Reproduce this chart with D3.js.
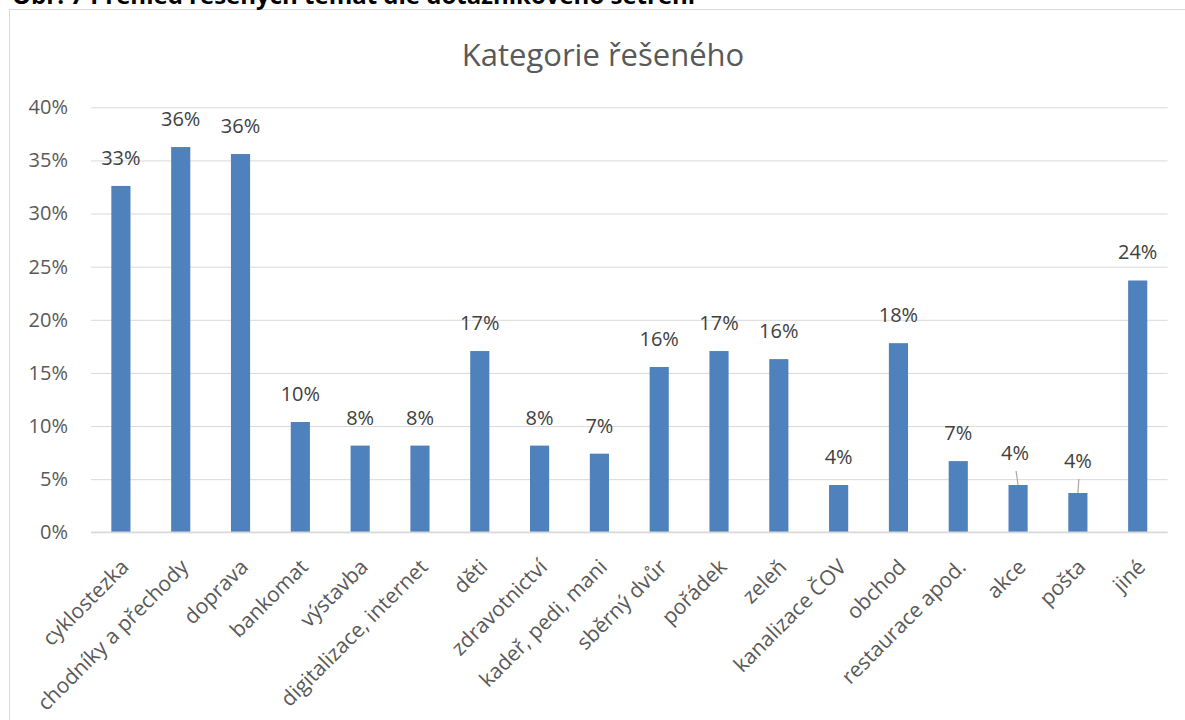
<!DOCTYPE html>
<html lang="cs">
    <head>
        <meta charset="utf-8">
        <title>Kategorie řešeného</title>
        <script src="https://cdnjs.cloudflare.com/ajax/libs/d3/7.8.5/d3.min.js" charset="utf-8"></script>
        <style>
        body {
          margin: 0;
          background: #fff;
          font-family: 'Open Sans', sans-serif;
        }
        svg {
          display: block;
        }
        .grid line {
          stroke: #d9d9d9;
        }
        </style>
    </head>
    <body>
        <svg></svg>

        <script type="text/javascript">
          // hodnoty (podíl odpovědí)
          var categories = ["cyklostezka", "chodníky a přechody", "doprava", "bankomat", "výstavba",
                            "digitalizace, internet", "děti", "zdravotnictví", "kadeř, pedi, mani",
                            "sběrný dvůr", "pořádek", "zeleň", "kanalizace ČOV", "obchod",
                            "restaurace apod.", "akce", "pošta", "jiné"];
          var values = [0.326, 0.3626, 0.356, 0.1038, 0.0816, 0.0816, 0.1706, 0.0816, 0.074,
                        0.1556, 0.1706, 0.163, 0.0445, 0.178, 0.067, 0.0445, 0.037, 0.237];
          var yTicks = [0, 0.05, 0.10, 0.15, 0.20, 0.25, 0.30, 0.35, 0.40];

          var caption = "Obr. 7 Přehled řešených témat dle dotazníkového šetření";
          var title = "Kategorie řešeného";

          var width = 1185;
          var height = 720;
          var plot = {left: 91, right: 1167.6, top: 107.3, bottom: 532.3};

          var data = categories.map((c, i) => ({cat: c, val: values[i]}));

          var svg = d3.select("svg")
              .attr("width", width)
              .attr("height", height);

          // rámeček grafu (pravý a dolní okraj je mimo obrázek)
          svg.append("rect")
              .attr("x", 9.5)
              .attr("y", 9.5)
              .attr("width", width + 20)
              .attr("height", height + 20)
              .attr("fill", "none")
              .attr("stroke", "#d9d9d9");

          // titulek obrázku, v předloze oříznutý horním okrajem
          svg.append("text")
              .attr("x", 12)
              .attr("y", 4)
              .style("font-weight", "bold")
              .style("font-size", "24px")
              .attr("fill", "#000")
              .text(caption);

          svg.append("text")
              .attr("x", 603)
              .attr("y", 66)
              .style("text-anchor", "middle")
              .style("font-size", "31px")
              .attr("fill", "#595959")
              .text(title);

          var xScale = d3.scaleBand()
              .domain(categories)
              .range([plot.left, plot.right])
              .paddingInner(0.68)
              .paddingOuter(0.34);

          var yScale = d3.scaleLinear()
              .domain([0, 0.40])
              .range([plot.bottom, plot.top]);

          var yAxis = d3.axisLeft(yScale)
              .tickValues(yTicks)
              .tickSize(-(plot.right - plot.left))
              .tickPadding(23)
              .tickFormat(d3.format(".0%"));

          var gy = svg.append("g")
              .attr("class", "grid")
              .attr("transform", "translate(" + plot.left + ",0)")
              .call(yAxis);
          gy.select(".domain").remove();
          gy.selectAll("text")
              .attr("fill", "#595959")
              .style("font-size", "20px")
              .style("font-family", "'Open Sans', sans-serif");

          svg.selectAll("rect.bar")
              .data(data)
              .enter()
              .append("rect")
                .attr("class", "bar")
                .attr("x", d => xScale(d.cat))
                .attr("width", xScale.bandwidth())
                .attr("y", d => yScale(d.val))
                .attr("height", d => yScale(0) - yScale(d.val))
                .attr("fill", "#4f81bd");

          // osa x znovu navrch přes sloupce
          svg.append("line")
              .attr("x1", plot.left)
              .attr("x2", plot.right)
              .attr("y1", yScale(0))
              .attr("y2", yScale(0))
              .attr("stroke", "#d9d9d9")
              .attr("stroke-width", 1.5);

          // ručně posunuté popisky s odkazovou čarou
          var moved = {"akce": [-3, -4], "pošta": [0, -4]};
          var fmt = d3.format(".0%");

          data.forEach(function(d) {
              var cx = xScale(d.cat) + xScale.bandwidth() / 2;
              var top = yScale(d.val);
              var shift = moved[d.cat] || [0, 0];
              var ly = top - 21 + shift[1];
              if (moved[d.cat]) {
                  svg.append("line")
                      .attr("x1", cx + shift[0] + 1)
                      .attr("y1", ly + 11)
                      .attr("x2", cx)
                      .attr("y2", top)
                      .attr("stroke", "#a6a6a6")
                      .attr("stroke-width", 1.2);
              }
              svg.append("text")
                  .attr("x", cx + shift[0])
                  .attr("y", ly)
                  .style("text-anchor", "middle")
                  .style("font-size", "20px")
                  .attr("fill", "#404040")
                  .text(fmt(d.val));
          });

          // popisky kategorií pod úhlem 45°
          svg.selectAll("text.cat")
              .data(data)
              .enter()
              .append("text")
                .attr("class", "cat")
                .attr("transform", d => "translate(" + (xScale(d.cat) + xScale.bandwidth() / 2 + 9) + "," + (yScale(0) + 36) + ") rotate(-45)")
                .style("text-anchor", "end")
                .style("font-size", "21px")
                .attr("fill", "#595959")
                .text(d => d.cat);
        </script>
    </body>
</html>
